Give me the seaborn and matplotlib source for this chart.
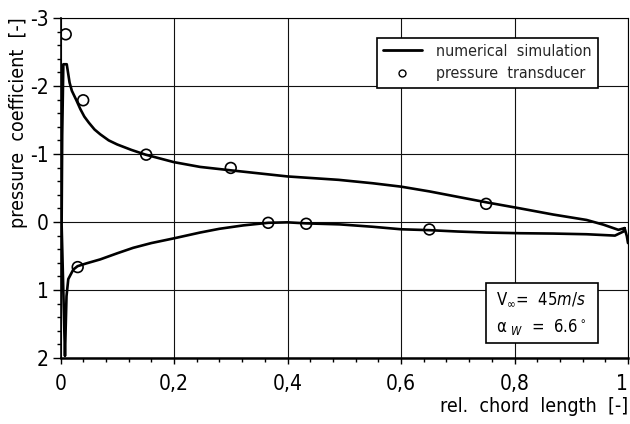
import matplotlib
matplotlib.use("Agg")
import numpy as np
import pandas as pd
import matplotlib.pyplot as plt
import seaborn as sns
from matplotlib.lines import Line2D
from matplotlib.patches import Rectangle
from matplotlib.ticker import MultipleLocator, FixedLocator, FixedFormatter
from matplotlib import font_manager

# ---- data ----
# numerical simulation: closed path, upper surface from trailing edge to leading edge, then lower surface back
sim_x = [1.000, 0.998, 0.994, 0.983, 0.957, 0.927, 0.868, 0.810, 0.750, 0.700,
         0.650, 0.600, 0.550, 0.490, 0.400, 0.300, 0.246, 0.200, 0.150, 0.125,
         0.100, 0.085, 0.070, 0.060, 0.050, 0.042, 0.035, 0.028, 0.020, 0.016,
         0.011, 0.005, 0.003, 0.002, 0.0079, 0.009, 0.0106, 0.0137, 0.0225, 0.030,
         0.045, 0.070, 0.100, 0.128, 0.160, 0.200, 0.246, 0.280, 0.322, 0.366,
         0.400, 0.432, 0.492, 0.550, 0.600, 0.650, 0.700, 0.750, 0.810, 0.868,
         0.927, 0.977, 0.992, 0.994]
sim_cp = [0.31, 0.21, 0.09, 0.115, 0.04, -0.03, -0.11, -0.20, -0.29, -0.37,
          -0.45, -0.52, -0.57, -0.62, -0.67, -0.76, -0.81, -0.88, -0.99, -1.06,
          -1.14, -1.20, -1.29, -1.36, -1.46, -1.55, -1.66, -1.79, -1.93, -2.05,
          -2.32, -2.32, -1.28, 0.04, 1.97, 1.60, 1.09, 0.84, 0.70, 0.65,
          0.61, 0.55, 0.46, 0.38, 0.31, 0.24, 0.155, 0.10, 0.05, 0.012,
          0.005, 0.02, 0.035, 0.07, 0.107, 0.12, 0.14, 0.155, 0.165, 0.17,
          0.18, 0.20, 0.14, 0.09]

# pressure transducer measurements
exp_x = [0.0092, 0.0303, 0.040, 0.151, 0.300, 0.366, 0.433, 0.650, 0.750]
exp_cp = [-2.76, 0.663, -1.79, -0.99, -0.795, 0.012, 0.026, 0.11, -0.267]

x_ticks = [0.0, 0.2, 0.4, 0.6, 0.8, 1.0]
x_tick_labels = ["0", "0,2", "0,4", "0,6", "0,8", "1"]
y_ticks = [-3, -2, -1, 0, 1, 2]
y_tick_labels = ["-3", "-2", "-1", "0", "1", "2"]

legend_labels = ["numerical  simulation", "pressure  transducer"]
xlabel = "rel.  chord  length  [-]"
ylabel = "pressure  coefficient  [-]"
info_lines = [r"V$_\infty$=  45$\it{m/s}$", r"α $_{\it W}$  =  6.6$^\circ$"]

# ---- style ----
sns.set_theme(style="white")
names = {f.name for f in font_manager.fontManager.ttflist}
fam = [n for n in ["Liberation Sans Narrow", "DejaVu Sans"] if n in names]
plt.rcParams["font.family"] = fam
if fam and fam[0] != "Liberation Sans Narrow":
    plt.rcParams["font.stretch"] = "condensed"
plt.rcParams["mathtext.fontset"] = "custom"
plt.rcParams["mathtext.rm"] = fam[0]
plt.rcParams["mathtext.it"] = fam[0] + ":italic"
plt.rcParams["mathtext.sf"] = fam[0]

W, H = 630, 424
fig = plt.figure(figsize=(W / 100, H / 100), dpi=100)
fig.patch.set_facecolor("white")
x0, x1, ytop, ybot = 60.5, 628.0, 18.0, 358.0
ax = fig.add_axes([x0 / W, 1 - ybot / H, (x1 - x0) / W, (ybot - ytop) / H])
ax.set_facecolor("white")

df_sim = pd.DataFrame({"x": sim_x, "cp": sim_cp})
df_exp = pd.DataFrame({"x": exp_x, "cp": exp_cp})

sns.lineplot(data=df_sim, x="x", y="cp", sort=False, estimator=None, color="black",
             lw=1.9, ax=ax, zorder=3)
sns.scatterplot(data=df_exp, x="x", y="cp", ax=ax, marker="o", s=60,
                facecolors="none", edgecolor="black", linewidth=1.2, zorder=4)

ax.set_xlim(0, 1)
ax.set_ylim(2, -3)
ax.xaxis.set_major_locator(FixedLocator(x_ticks))
ax.xaxis.set_major_formatter(FixedFormatter(x_tick_labels))
ax.yaxis.set_major_locator(FixedLocator(y_ticks))
ax.yaxis.set_major_formatter(FixedFormatter(y_tick_labels))
ax.xaxis.set_minor_locator(MultipleLocator(0.04))
ax.yaxis.set_minor_locator(MultipleLocator(0.2))

ax.grid(True, which="major", color="#111111", lw=0.8)
ax.set_axisbelow(True)

ax.tick_params(axis="both", which="both", direction="out", color="black",
               labelcolor="black", width=1.0, bottom=True, left=True)
ax.tick_params(axis="y", which="major", length=5.8, pad=2.5, labelsize=15)
ax.tick_params(axis="y", which="minor", length=2.9)
ax.tick_params(axis="x", which="major", length=4.5, pad=7, labelsize=15)
ax.tick_params(axis="x", which="minor", length=3.0)

# keep the last x tick label inside the figure
fig.canvas.draw()
xtl = ax.get_xticklabels()
xtl[-1].set_ha("right")
xtl[-1].set_x(1.0)

for side, lw in {"bottom": 1.8, "left": 1.2, "top": 0.8, "right": 0.8}.items():
    ax.spines[side].set_visible(True)
    ax.spines[side].set_color("black")
    ax.spines[side].set_linewidth(lw)

ax.set_xlabel(xlabel, fontsize=14, color="black", ha="right", va="center")
ax.xaxis.set_label_coords(1.0, (H - 407 - (H - ybot)) / (ybot - ytop))
ax.set_ylabel(ylabel, fontsize=14, color="black")
ax.yaxis.label.set_rotation_mode("default")
ax.yaxis.label.set_ha("center")
ax.yaxis.label.set_va("top")
ax.yaxis.set_label_coords((19 - x0) / (x1 - x0), (H - 17 - (H - ybot)) / (ybot - ytop))

handles = [Line2D([], [], color="black", lw=2.0),
           Line2D([], [], marker="o", ls="none", mfc="none", mec="black", ms=5, mew=1.0)]
leg = ax.legend(handles, legend_labels, loc="upper right",
                bbox_to_anchor=(598 / W, 1 - 37.7 / H), bbox_transform=fig.transFigure,
                frameon=True, fancybox=False, framealpha=1, edgecolor="black",
                fontsize=11.5, handlelength=2.4, handletextpad=0.9, borderpad=0.4,
                labelspacing=0.45, borderaxespad=0)
leg.get_frame().set_linewidth(1.2)
leg.set_zorder(10)

ax.add_patch(Rectangle((486 / W, 1 - 343.3 / H), 112 / W, 60 / H, transform=fig.transFigure,
                       facecolor="white", edgecolor="black", lw=1.2, zorder=8, clip_on=False))
ax.text(496 / W, 1 - 299 / H, info_lines[0], transform=fig.transFigure, fontsize=12,
        ha="left", va="center", color="black", zorder=9)
ax.text(496 / W, 1 - 327 / H, info_lines[1], transform=fig.transFigure, fontsize=12,
        ha="left", va="center", color="black", zorder=9)

fig.savefig("out.png", dpi=100, facecolor="white")
